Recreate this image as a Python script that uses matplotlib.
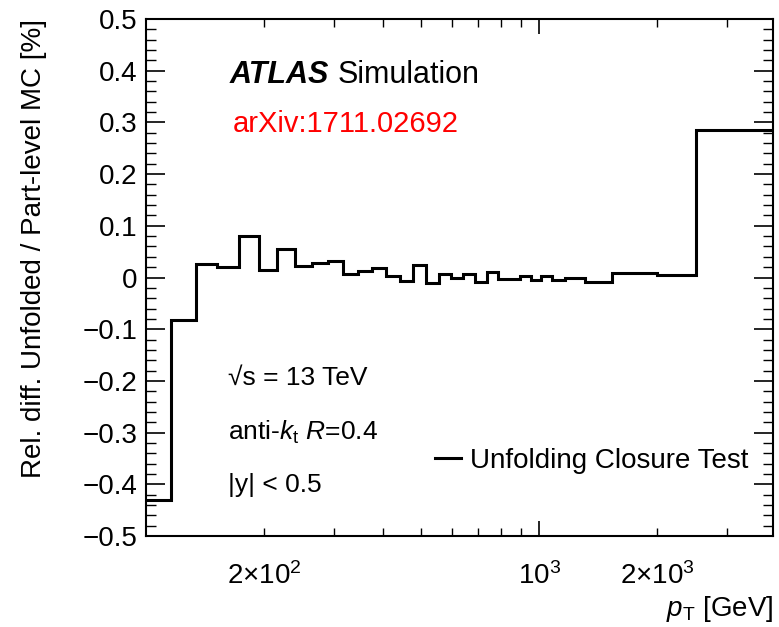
import numpy as np
import matplotlib
matplotlib.use("Agg")
import matplotlib.pyplot as plt
from matplotlib.ticker import FixedLocator, FuncFormatter

plt.rcParams['font.family'] = ['Liberation Sans', 'DejaVu Sans']
plt.rcParams['mathtext.fontset'] = 'custom'
plt.rcParams['mathtext.rm'] = 'Liberation Sans'
plt.rcParams['mathtext.it'] = 'Liberation Sans:italic'
plt.rcParams['mathtext.bf'] = 'Liberation Sans:bold'

# jet pT binning (GeV) and closure-test relative difference (%)
pt_edges = [100, 116, 134, 152, 172, 194, 216, 240, 264, 290, 318, 346, 376,
            408, 442, 478, 516, 556, 598, 642, 688, 736, 786, 838, 894, 952,
            1012, 1076, 1162, 1310, 1530, 1992, 2500, 3137, 3937]
rel_diff = [-0.430, -0.082, 0.027, 0.020, 0.080, 0.014, 0.055, 0.023, 0.029,
            0.031, 0.007, 0.013, 0.019, 0.002, -0.006, 0.025, -0.010, 0.007,
            -0.001, 0.007, -0.008, 0.011, -0.003, -0.003, 0.002, -0.005,
            0.002, -0.005, 0.000, -0.008, 0.009, 0.004, 0.286, 0.286]

y_ticks = [-0.5, -0.4, -0.3, -0.2, -0.1, 0, 0.1, 0.2, 0.3, 0.4, 0.5]
y_labels = ["\u22120.5", "\u22120.4", "\u22120.3", "\u22120.2", "\u22120.1", "0",
            "0.1", "0.2", "0.3", "0.4", "0.5"]
x_labels = {200: r"$2{\times}10^{2}$", 1000: r"$10^{3}$", 2000: r"$2{\times}10^{3}$"}

fs = 20

fig = plt.figure(figsize=(7.79, 6.27), dpi=100)
ax = fig.add_axes([0.1874, 0.1451, 0.805, 0.8246])

ax.stairs(rel_diff, pt_edges, baseline=None, color="black", linewidth=2.2,
          label="Unfolding Closure Test")

ax.set_xscale("log")
ax.set_xlim(pt_edges[0], pt_edges[-1])
ax.set_ylim(-0.5, 0.5)

# y axis
ax.yaxis.set_major_locator(FixedLocator(y_ticks))
ax.set_yticklabels(y_labels)
ax.yaxis.set_minor_locator(FixedLocator(np.arange(-0.5, 0.501, 0.02)))

# x axis: decade major tick, 2..9 minor ticks, labels only at 200, 1000, 2000
ax.xaxis.set_major_locator(FixedLocator([1000]))
minors = [m * 10 ** e for e in (2, 3) for m in range(2, 10) if m * 10 ** e < pt_edges[-1]]
ax.xaxis.set_minor_locator(FixedLocator(minors))
fmt = FuncFormatter(lambda v, p: x_labels.get(int(round(v)), ""))
ax.xaxis.set_major_formatter(fmt)
ax.xaxis.set_minor_formatter(fmt)

ax.tick_params(axis="both", which="both", direction="in", top=True, right=True,
               labelsize=fs)
ax.tick_params(axis="y", which="major", length=14, width=1.2, pad=6)
ax.tick_params(axis="y", which="minor", length=7, width=1.0)
ax.tick_params(axis="x", which="major", length=11, width=1.2, pad=19)
ax.tick_params(axis="x", which="minor", length=6, width=1.0, pad=19)
for s in ax.spines.values():
    s.set_linewidth(1.5)

ax.set_ylabel("Rel. diff. Unfolded / Part-level MC [%]", fontsize=fs,
              loc="top", labelpad=26)
ax.set_xlabel(r"$p_\mathrm{T}$ [GeV]", fontsize=fs, loc="right", labelpad=3)

# labels inside the frame
ax.text(0.134, 0.892, "ATLAS", transform=ax.transAxes, fontsize=22,
        fontweight="bold", fontstyle="italic", va="center")
ax.text(0.305, 0.892, "Simulation", transform=ax.transAxes, fontsize=22,
        va="center")
ax.text(0.139, 0.797, "arXiv:1711.02692", transform=ax.transAxes, fontsize=21,
        color="red", va="center")
ax.text(0.131, 0.306, "\u221as = 13 TeV", transform=ax.transAxes,
        fontsize=19, va="center")
ax.text(0.131, 0.201, r"anti-$k_\mathrm{t}$ $R$=0.4", transform=ax.transAxes,
        fontsize=19, va="center")
ax.text(0.131, 0.099, "|y| < 0.5", transform=ax.transAxes,
        fontsize=19, va="center")

ax.legend(loc="center left", bbox_to_anchor=(0.461, 0.145), frameon=False,
          fontsize=fs, handlelength=0.95, handletextpad=0.3,
          borderpad=0, borderaxespad=0)

fig.savefig("out.png", dpi=100)
